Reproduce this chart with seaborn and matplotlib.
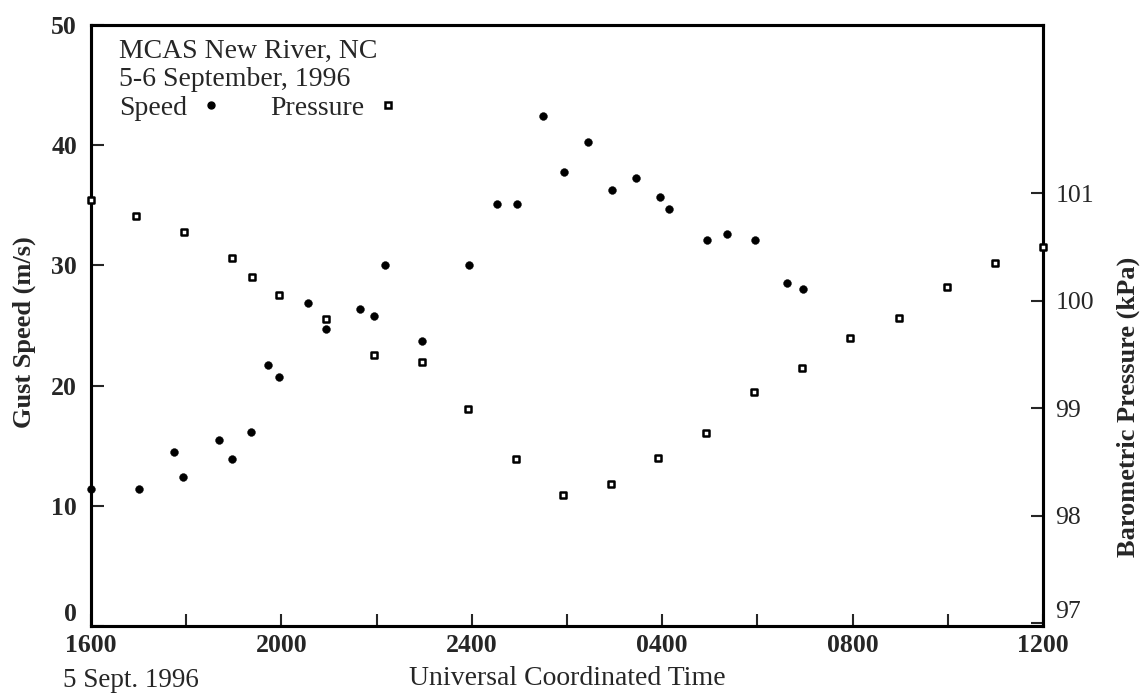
import matplotlib
matplotlib.use("Agg")
import matplotlib.pyplot as plt
import pandas as pd
import seaborn as sns
from matplotlib.lines import Line2D
from matplotlib.ticker import MultipleLocator, FixedLocator

# ---- data (hours after 1600 UTC, 5 Sept 1996) ----
speed_hours = [0.0, 1.0, 1.74, 1.93, 2.68, 2.96, 3.37, 3.72, 3.96, 4.55,
               4.94, 5.65, 5.94, 6.17, 6.95, 7.95, 8.54, 8.95, 9.49, 9.94,
               10.45, 10.95, 11.45, 11.95, 12.15, 12.95, 13.37, 13.95, 14.62, 14.95]
speed_ms = [11.4, 11.4, 14.5, 12.4, 15.5, 13.9, 16.1, 21.7, 20.7, 26.9,
            24.7, 26.4, 25.8, 30.0, 23.7, 30.0, 35.1, 35.1, 42.4, 37.8,
            40.3, 36.3, 37.3, 35.7, 34.7, 32.1, 32.6, 32.1, 28.5, 28.0]
pressure_hours = [0.0, 0.95, 1.95, 2.96, 3.38, 3.96, 4.94, 5.94, 6.95, 7.93, 8.93,
                  9.91, 10.92, 11.92, 12.93, 13.93, 14.94, 15.95, 16.97, 17.99, 19.0, 20.0]
pressure_kpa = [100.94, 100.79, 100.64, 100.40, 100.22, 100.05, 99.83, 99.50, 99.43,
                98.99, 98.53, 98.19, 98.30, 98.54, 98.77, 99.15, 99.37, 99.65,
                99.84, 100.13, 100.35, 100.50]
x_tick_hours = [0, 4, 8, 12, 16, 20]
x_tick_labels = ["1600", "2000", "2400", "0400", "0800", "1200"]
speed_ticks = [0, 10, 20, 30, 40, 50]
pressure_ticks = [97, 98, 99, 100, 101]

speed_df = pd.DataFrame({"hour": speed_hours, "speed": speed_ms})
press_df = pd.DataFrame({"hour": pressure_hours, "pressure": pressure_kpa})

sns.set_style("ticks")
plt.rcParams["font.family"] = ["Liberation Serif", "DejaVu Serif"]

fig = plt.figure(figsize=(11.44, 6.94), dpi=100)
ax = fig.add_axes([0.0795, 0.0980, 0.8322, 0.8660])
ax2 = ax.twinx()

sns.scatterplot(data=speed_df, x="hour", y="speed", ax=ax, marker="o", s=32,
                color="black", edgecolor="black", linewidth=0.3, clip_on=False,
                legend=False, zorder=5)
sns.scatterplot(data=press_df, x="hour", y="pressure", ax=ax2, marker="s", s=16,
                color="white", edgecolor="black", linewidth=1.8, clip_on=False,
                legend=False, zorder=5)

ax.set_xlim(0, 20)
ax.set_ylim(0, 50)
ax2.set_ylim(96.975, 102.565)

ax.xaxis.set_major_locator(FixedLocator(x_tick_hours))
ax.set_xticklabels(x_tick_labels)
ax.xaxis.set_minor_locator(MultipleLocator(2))
ax.yaxis.set_major_locator(FixedLocator(speed_ticks))
ax.set_yticklabels([str(v) for v in speed_ticks])
ax2.yaxis.set_major_locator(FixedLocator(pressure_ticks))
ax2.set_yticklabels([str(v) for v in pressure_ticks])

ax.tick_params(axis="x", which="both", direction="in", length=9, width=1.5,
               labelsize=18.5, pad=6, top=False)
ax.tick_params(axis="y", which="both", direction="in", length=9, width=1.5,
               labelsize=18.5, pad=10, right=False)
ax2.tick_params(axis="y", direction="in", length=9, width=1.5,
                labelsize=18.5, pad=9)

for lbl in ax.get_xticklabels() + ax.get_yticklabels():
    lbl.set_fontweight("bold")
# lowest labels sit just above the bottom spine, as in the original
ax.get_yticklabels()[0].set_verticalalignment("bottom")
ax2.get_yticklabels()[0].set_verticalalignment("bottom")

for a in (ax, ax2):
    for sp in a.spines.values():
        sp.set_visible(True)
        sp.set_linewidth(2.2)
        sp.set_color("black")

ax.set_xlabel("Universal Coordinated Time", fontsize=20)
ax.xaxis.set_label_coords(0.5, -0.066)
ax.set_ylabel("Gust Speed (m/s)", fontsize=19, fontweight="bold")
ax.yaxis.set_label_coords(-0.058, 0.489)
ax2.set_ylabel("Barometric Pressure (kPa)", fontsize=19, fontweight="bold")
ax2.yaxis.set_label_coords(1.077, 0.365)

fig.text(63 / 1144, 1 - 687 / 694, "5 Sept. 1996", fontsize=19.5, va="baseline", ha="left")
fig.text(119 / 1144, 1 - 58 / 694, "MCAS New River, NC", fontsize=20, va="baseline", ha="left")
fig.text(119 / 1144, 1 - 86 / 694, "5-6 September, 1996", fontsize=20, va="baseline", ha="left")

handles = [Line2D([], [], linestyle="none", marker="o", markersize=5,
                  markerfacecolor="black", markeredgecolor="black"),
           Line2D([], [], linestyle="none", marker="s", markersize=4.5,
                  markerfacecolor="white", markeredgecolor="black", markeredgewidth=1.8)]
leg = fig.legend(handles, ["Speed", "Pressure"], ncol=2, markerfirst=False,
                 frameon=False, fontsize=20, loc="lower left",
                 bbox_to_anchor=(119 / 1144, 1 - 121 / 694), borderpad=0,
                 borderaxespad=0, handlelength=0.8, handletextpad=0.46,
                 columnspacing=1.73)

fig.savefig("out.png", dpi=100)
